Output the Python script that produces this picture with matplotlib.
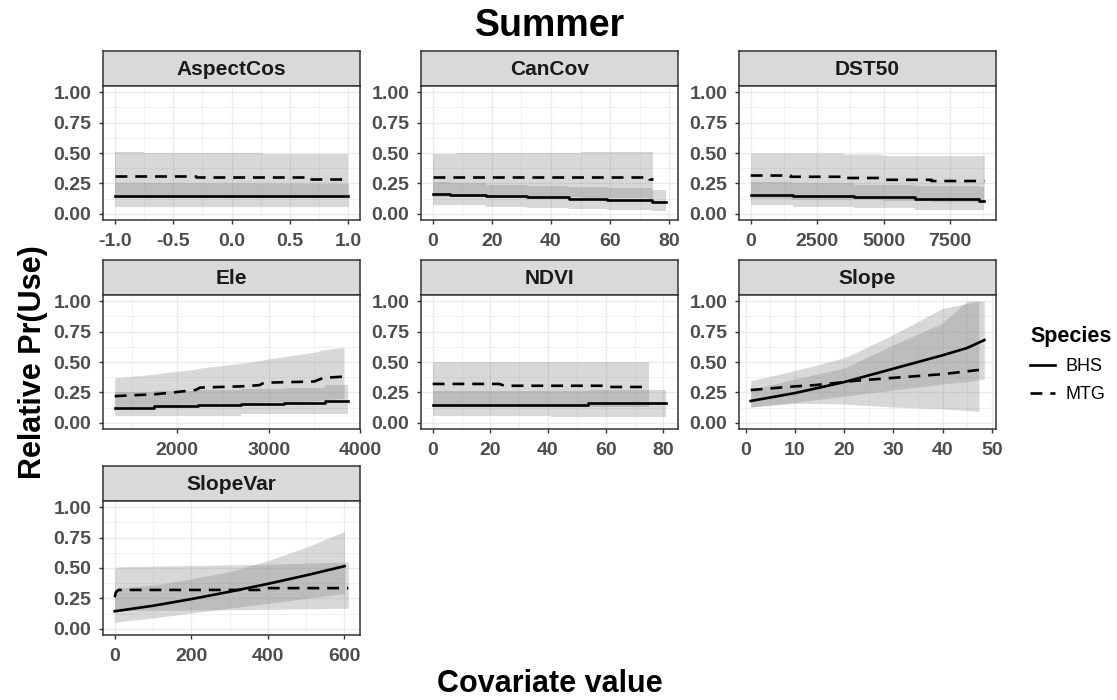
import matplotlib
matplotlib.use('Agg')
import matplotlib.pyplot as plt
from matplotlib.lines import Line2D
from matplotlib.ticker import AutoMinorLocator, FormatStrFormatter

plt.rcParams['font.family'] = ['Liberation Sans', 'DejaVu Sans']

# ---- data ----
# AspectCos
aspect_bhs_x = [-1.0, 1.0]
aspect_bhs_fit = [0.15, 0.15]
aspect_bhs_lo = [0.06, 0.06]
aspect_bhs_hi = [0.26, 0.25]
aspect_mtg_x = [-1.0, -0.75, -0.75, -0.3, -0.3, 0.27, 0.27, 0.65, 0.65, 1.0]
aspect_mtg_fit = [0.31, 0.31, 0.31, 0.31, 0.30, 0.30, 0.30, 0.30, 0.29, 0.29]
aspect_mtg_lo = [0.13, 0.13, 0.13, 0.13, 0.13, 0.13, 0.13, 0.13, 0.13, 0.13]
aspect_mtg_hi = [0.51, 0.51, 0.50, 0.50, 0.50, 0.50, 0.49, 0.49, 0.49, 0.49]

# CanCov
cancov_bhs_x = [0, 6, 6, 18, 18, 32, 32, 46, 46, 59, 59, 74, 74, 79]
cancov_bhs_fit = [0.165, 0.165, 0.155, 0.155, 0.145, 0.145, 0.135, 0.135, 0.125, 0.125, 0.115, 0.115, 0.10, 0.10]
cancov_bhs_lo = [0.07, 0.07, 0.07, 0.07, 0.06, 0.06, 0.05, 0.05, 0.04, 0.04, 0.03, 0.03, 0.02, 0.02]
cancov_bhs_hi = [0.26, 0.26, 0.25, 0.25, 0.24, 0.24, 0.23, 0.23, 0.22, 0.22, 0.21, 0.21, 0.20, 0.20]
cancov_mtg_x = [0, 8, 8, 50, 50, 73, 73, 74.5]
cancov_mtg_fit = [0.30, 0.30, 0.30, 0.30, 0.30, 0.30, 0.29, 0.29]
cancov_mtg_lo = [0.14, 0.14, 0.14, 0.14, 0.13, 0.13, 0.12, 0.12]
cancov_mtg_hi = [0.49, 0.49, 0.50, 0.50, 0.51, 0.51, 0.51, 0.51]

# DST50
dst_bhs_x = [0, 1600, 1600, 3900, 3900, 6200, 6200, 8600, 8600, 8790]
dst_bhs_fit = [0.155, 0.155, 0.145, 0.145, 0.135, 0.135, 0.125, 0.125, 0.11, 0.11]
dst_bhs_lo = [0.07, 0.07, 0.06, 0.06, 0.045, 0.045, 0.035, 0.035, 0.03, 0.03]
dst_bhs_hi = [0.26, 0.26, 0.25, 0.25, 0.24, 0.24, 0.23, 0.23, 0.22, 0.22]
dst_mtg_x = [0, 1500, 1500, 3500, 3500, 4900, 5000, 6800, 6800, 8790]
dst_mtg_fit = [0.315, 0.315, 0.305, 0.305, 0.295, 0.295, 0.28, 0.28, 0.27, 0.27]
dst_mtg_lo = [0.13, 0.13, 0.12, 0.12, 0.12, 0.12, 0.11, 0.11, 0.10, 0.10]
dst_mtg_hi = [0.50, 0.50, 0.50, 0.50, 0.49, 0.49, 0.48, 0.48, 0.48, 0.48]

# Ele
ele_bhs_x = [1314, 1750, 1750, 2230, 2230, 2700, 2700, 3170, 3170, 3620, 3620, 3873]
ele_bhs_fit = [0.125, 0.125, 0.135, 0.135, 0.145, 0.145, 0.155, 0.155, 0.165, 0.165, 0.18, 0.18]
ele_bhs_lo = [0.06, 0.06, 0.06, 0.06, 0.06, 0.06, 0.07, 0.07, 0.07, 0.07, 0.07, 0.07]
ele_bhs_hi = [0.25, 0.25, 0.26, 0.26, 0.27, 0.27, 0.28, 0.28, 0.29, 0.29, 0.31, 0.31]
ele_mtg_x = [1314, 1750, 1950, 2200, 2250, 2700, 2900, 2950, 3500, 3600, 3826]
ele_mtg_fit = [0.22, 0.235, 0.25, 0.27, 0.29, 0.30, 0.31, 0.33, 0.34, 0.37, 0.38]
ele_mtg_lo = [0.12, 0.13, 0.13, 0.14, 0.15, 0.16, 0.17, 0.17, 0.18, 0.19, 0.20]
ele_mtg_hi = [0.37, 0.40, 0.42, 0.44, 0.45, 0.49, 0.51, 0.52, 0.58, 0.60, 0.62]

# NDVI
ndvi_bhs_x = [0, 41, 41, 54, 54, 81]
ndvi_bhs_fit = [0.15, 0.15, 0.15, 0.15, 0.16, 0.16]
ndvi_bhs_lo = [0.06, 0.06, 0.05, 0.05, 0.05, 0.05]
ndvi_bhs_hi = [0.26, 0.26, 0.26, 0.26, 0.27, 0.27]
ndvi_mtg_x = [0, 23, 25, 59, 60, 75]
ndvi_mtg_fit = [0.32, 0.32, 0.305, 0.305, 0.295, 0.295]
ndvi_mtg_lo = [0.13, 0.13, 0.13, 0.13, 0.13, 0.13]
ndvi_mtg_hi = [0.50, 0.50, 0.50, 0.50, 0.50, 0.50]

# Slope
slope_bhs_x = [1, 10, 20, 30, 40, 45, 48.5]
slope_bhs_fit = [0.18, 0.245, 0.335, 0.445, 0.555, 0.615, 0.68]
slope_bhs_lo = [0.13, 0.17, 0.22, 0.27, 0.32, 0.34, 0.36]
slope_bhs_hi = [0.27, 0.36, 0.45, 0.64, 0.82, 1.00, 1.00]
slope_mtg_x = [1, 10, 14, 20, 22, 30, 40, 47.4]
slope_mtg_fit = [0.27, 0.30, 0.31, 0.335, 0.345, 0.37, 0.40, 0.435]
slope_mtg_lo = [0.13, 0.16, 0.16, 0.155, 0.15, 0.13, 0.115, 0.095]
slope_mtg_hi = [0.345, 0.43, 0.47, 0.535, 0.57, 0.725, 0.94, 1.00]

# SlopeVar
svar_bhs_x = [0, 100, 200, 300, 400, 500, 600]
svar_bhs_fit = [0.145, 0.19, 0.245, 0.305, 0.37, 0.44, 0.515]
svar_bhs_lo = [0.055, 0.09, 0.13, 0.17, 0.21, 0.25, 0.29]
svar_bhs_hi = [0.33, 0.36, 0.41, 0.47, 0.56, 0.67, 0.80]
svar_mtg_x = [0, 3, 10, 380, 390, 610]
svar_mtg_fit = [0.26, 0.30, 0.32, 0.32, 0.335, 0.335]
svar_mtg_lo = [0.15, 0.15, 0.15, 0.16, 0.16, 0.17]
svar_mtg_hi = [0.50, 0.50, 0.51, 0.53, 0.53, 0.55]

panel_names = ['AspectCos', 'CanCov', 'DST50', 'Ele', 'NDVI', 'Slope', 'SlopeVar']
panel_xticks = [[-1.0, -0.5, 0.0, 0.5, 1.0], [0, 20, 40, 60, 80], [0, 2500, 5000, 7500],
                [2000, 3000, 4000], [0, 20, 40, 60, 80], [0, 10, 20, 30, 40, 50], [0, 200, 400, 600]]
panel_bhs = [
    (aspect_bhs_x, aspect_bhs_fit, aspect_bhs_lo, aspect_bhs_hi),
    (cancov_bhs_x, cancov_bhs_fit, cancov_bhs_lo, cancov_bhs_hi),
    (dst_bhs_x, dst_bhs_fit, dst_bhs_lo, dst_bhs_hi),
    (ele_bhs_x, ele_bhs_fit, ele_bhs_lo, ele_bhs_hi),
    (ndvi_bhs_x, ndvi_bhs_fit, ndvi_bhs_lo, ndvi_bhs_hi),
    (slope_bhs_x, slope_bhs_fit, slope_bhs_lo, slope_bhs_hi),
    (svar_bhs_x, svar_bhs_fit, svar_bhs_lo, svar_bhs_hi),
]
panel_mtg = [
    (aspect_mtg_x, aspect_mtg_fit, aspect_mtg_lo, aspect_mtg_hi),
    (cancov_mtg_x, cancov_mtg_fit, cancov_mtg_lo, cancov_mtg_hi),
    (dst_mtg_x, dst_mtg_fit, dst_mtg_lo, dst_mtg_hi),
    (ele_mtg_x, ele_mtg_fit, ele_mtg_lo, ele_mtg_hi),
    (ndvi_mtg_x, ndvi_mtg_fit, ndvi_mtg_lo, ndvi_mtg_hi),
    (slope_mtg_x, slope_mtg_fit, slope_mtg_lo, slope_mtg_hi),
    (svar_mtg_x, svar_mtg_fit, svar_mtg_lo, svar_mtg_hi),
]
yticks = [0.0, 0.25, 0.5, 0.75, 1.0]

# ---- layout (pixels) ----
W, H = 1117, 700
col_left = [103, 421, 739]
panel_w = 257
row_strip_top = [51, 260, 466]
strip_h = 35
panel_h = 134
dash = (4.5, 3)
lw = 1.9

fig = plt.figure(figsize=(W / 100, H / 100), dpi=100)


def rect(l, t, w, h):
    return [l / W, 1 - (t + h) / H, w / W, h / H]


for i, name in enumerate(panel_names):
    r, c = divmod(i, 3)
    left = col_left[c]
    top = row_strip_top[r]

    # strip
    sax = fig.add_axes(rect(left, top, panel_w, strip_h))
    sax.set_facecolor('#d9d9d9')
    sax.set_xticks([])
    sax.set_yticks([])
    for s in sax.spines.values():
        s.set_color('#333333')
        s.set_linewidth(1.1)
    sax.text(0.5, 0.47, name, ha='center', va='center', fontsize=15,
             fontweight='bold', color='#1a1a1a', transform=sax.transAxes)

    ax = fig.add_axes(rect(left, top + strip_h, panel_w, panel_h))
    bx, bfit, blo, bhi = panel_bhs[i]
    mx, mfit, mlo, mhi = panel_mtg[i]
    ax.fill_between(bx, blo, bhi, color='#7f7f7f', alpha=0.3, linewidth=0, zorder=2)
    ax.fill_between(mx, mlo, mhi, color='#7f7f7f', alpha=0.3, linewidth=0, zorder=2)
    ax.plot(bx, bfit, color='black', linewidth=lw, zorder=3)
    ax.plot(mx, mfit, color='black', linewidth=lw, dashes=dash, zorder=3)

    allx = bx + mx
    xmin, xmax = min(allx), max(allx)
    pad = 0.05 * (xmax - xmin)
    ax.set_xlim(xmin - pad, xmax + pad)
    ax.set_ylim(-0.05, 1.05)
    ax.set_xticks(panel_xticks[i])
    ax.set_yticks(yticks)
    ax.xaxis.set_minor_locator(AutoMinorLocator(2))
    ax.yaxis.set_minor_locator(AutoMinorLocator(2))
    ax.yaxis.set_major_formatter(FormatStrFormatter('%.2f'))
    if name == 'AspectCos':
        ax.xaxis.set_major_formatter(FormatStrFormatter('%.1f'))
    ax.grid(which='major', color='#ebebeb', linewidth=1.0, zorder=0)
    ax.grid(which='minor', color='#ebebeb', linewidth=0.5, zorder=0)
    ax.set_axisbelow(True)
    ax.tick_params(which='major', length=3, width=1, color='#333333',
                   labelsize=14, labelcolor='#4d4d4d')
    ax.tick_params(axis='x', which='major', pad=6.5)
    ax.tick_params(axis='y', which='major', pad=5.5)
    ax.tick_params(which='minor', length=0)
    for lab in ax.get_xticklabels() + ax.get_yticklabels():
        lab.set_fontweight('bold')
    for s in ax.spines.values():
        s.set_color('#333333')
        s.set_linewidth(1.1)

fig.text(550 / W, 1 - 26 / H, 'Summer', ha='center', va='center',
         fontsize=27, fontweight='bold')
fig.text(33 / W, 1 - 362 / H, 'Relative Pr(Use)', ha='center', va='center',
         rotation=90, fontsize=22, fontweight='bold')
fig.text(550 / W, 1 - 684 / H, 'Covariate value', ha='center', va='center',
         fontsize=22, fontweight='bold')

handles = [Line2D([], [], color='black', linewidth=lw),
           Line2D([], [], color='black', linewidth=lw, dashes=dash)]
leg = fig.legend(handles, ['BHS', 'MTG'], loc='upper left',
                 bbox_to_anchor=(1014 / W, 1 - 310 / H), frameon=False,
                 title='Species', fontsize=13, handlelength=1.35,
                 handletextpad=0.6, alignment='left', labelspacing=0.6)
leg.get_title().set_fontweight('bold')
leg.get_title().set_fontsize(15.5)

plt.savefig('out.png', dpi=100)
